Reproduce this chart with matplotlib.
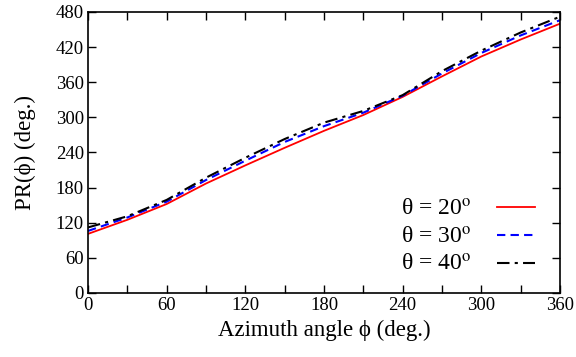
import matplotlib
matplotlib.use("Agg")
import matplotlib.pyplot as plt
from matplotlib.ticker import MultipleLocator

plt.rcParams['font.family'] = ['Liberation Serif', 'DejaVu Serif']
plt.rcParams['mathtext.fontset'] = 'stix'

# azimuth angle (deg.)
phi = [0, 30, 60, 90, 120, 150, 180, 210, 240, 270, 300, 330, 360]

# PR(phi) for three elevation angles
pr_20 = [101, 125, 152, 187, 218, 248, 277, 304, 335, 370, 404, 433, 460]
pr_30 = [106, 129, 156, 193, 226, 258, 285, 308, 337, 375, 410, 440, 466]
pr_40 = [112, 131, 159, 197, 231, 263, 291, 311, 338, 379, 414, 445, 472]

labels = [r"θ = 20$^{\mathrm{o}}$", r"θ = 30$^{\mathrm{o}}$", r"θ = 40$^{\mathrm{o}}$"]

fig = plt.figure(figsize=(5.76, 3.57), dpi=100)
ax = fig.add_axes([0.1528, 0.1793, 0.8194, 0.7871])

ax.plot(phi, pr_20, color='red', lw=1.3, label=labels[0])
ax.plot(phi, pr_30, color='blue', lw=1.5, dashes=(4, 2.5), label=labels[1])
ax.plot(phi, pr_40, color='black', lw=1.5, dashes=(6, 2.5, 1.5, 2.5), label=labels[2])

ax.set_xlim(0, 360)
ax.set_ylim(0, 480)
ax.xaxis.set_major_locator(MultipleLocator(60))
ax.xaxis.set_minor_locator(MultipleLocator(30))
ax.yaxis.set_major_locator(MultipleLocator(60))
ax.tick_params(which='both', direction='in', top=True, right=True,
               length=6, width=1, labelsize=13.5, pad=3)
for s in ax.spines.values():
    s.set_linewidth(1.2)

ax.set_xlabel("Azimuth angle ϕ (deg.)", fontsize=16.5, labelpad=4)
ax.set_ylabel("PR(ϕ) (deg.)", fontsize=16.5, labelpad=14)

ax.legend(loc='lower right', bbox_to_anchor=(0.947, 0.06), frameon=False,
          borderpad=0, borderaxespad=0,
          markerfirst=False, fontsize=17, handlelength=1.6,
          handletextpad=1.1, labelspacing=0.27)

fig.savefig("out.png", dpi=100)
